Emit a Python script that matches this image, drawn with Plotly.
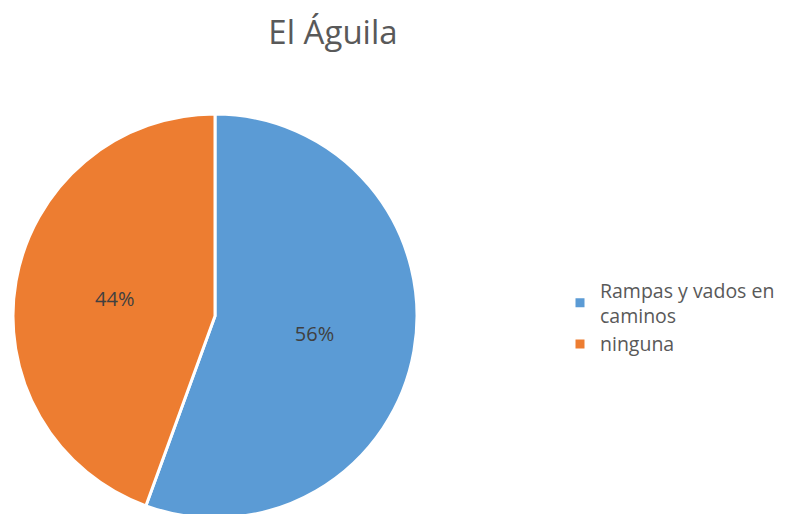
import plotly.graph_objects as go

# El Águila - answers (5 vs 4 -> 56% / 44%)
labels = ["Rampas y vados en<br>caminos", "ninguna"]
values = [5, 4]
colors = ["#5B9BD5", "#ED7D31"]

# the page body keeps its default 8px margin, so positions below are
# given in figure pixels (screenshot pixels minus 8)
W, H = 789, 514

fig = go.Figure(
    go.Pie(
        labels=labels,
        values=values,
        sort=False,
        direction="clockwise",
        rotation=0,
        marker=dict(colors=colors, line=dict(color="white", width=3)),
        texttemplate="%{percent:.0%}",
        textposition="inside",
        insidetextorientation="horizontal",
        textfont=dict(family="Open Sans", size=20, color="#404040"),
        domain=dict(x=[5 / W, 409 / W], y=[4 / H, 408 / H]),
        hoverinfo="label+percent",
    )
)

fig.update_layout(
    width=W,
    height=H,
    margin=dict(l=0, r=0, t=0, b=0),
    paper_bgcolor="white",
    title=dict(
        text="El Águila",
        x=325 / W,
        xanchor="center",
        y=1 - 24 / H,
        yanchor="middle",
        font=dict(family="Open Sans", size=33, color="#595959"),
    ),
    legend=dict(
        x=552 / W,
        xanchor="left",
        y=1 - 263 / H,
        yanchor="top",
        font=dict(family="Open Sans", size=19.5, color="#595959"),
        itemwidth=30,
    ),
    showlegend=True,
)

fig.write_html("out.html")
